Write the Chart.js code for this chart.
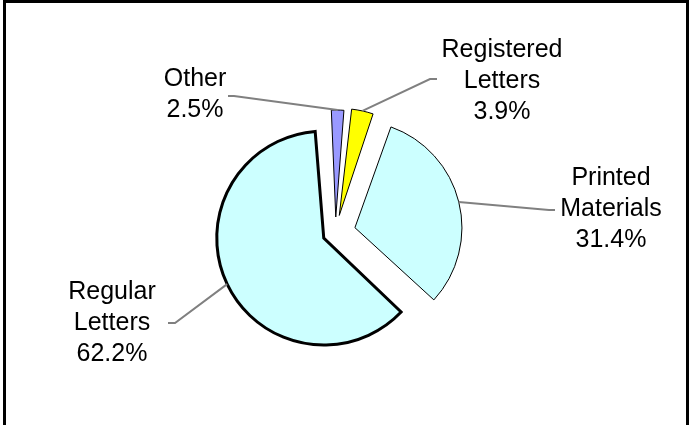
<!DOCTYPE html>
<html>
<head>
<meta charset="utf-8">
<script src="https://cdn.jsdelivr.net/npm/chart.js@4/dist/chart.umd.min.js"></script>
<style>
  html, body { margin: 0; padding: 0; background: #ffffff; }
  #wrap { position: relative; width: 691px; height: 425px; }
</style>
</head>
<body>
<div id="wrap"><canvas id="c" width="691" height="425"></canvas></div>
<script>
// ---- data ----
const categories = ['Other', 'Registered Letters', 'Printed Materials', 'Regular Letters'];
const shares = [2.5, 3.9, 31.4, 62.2];
const nameLines = [['Other'], ['Registered', 'Letters'], ['Printed', 'Materials'], ['Regular', 'Letters']];

// ---- styles ----
const fillColors = ['#9999FF', '#FFFF00', '#CCFFFF', '#CCFFFF'];
const borderWidths = [1, 1, 1, 3];
const explode = [62, 70, 80, 52];           // Chart.js offset units (px * 4)
const labelPos = [                          // [centre x, first baseline y]
  [195, 86], [502, 57], [611, 185], [112, 299]
];
const leaderEnds = [
  [[234, 96], [228, 96]],
  [[430, 79], [437, 79]],
  [[549, 210], [555, 210]],
  [[175, 323], [168, 323]]
];

// keep exploded slices at the same radius as the others
const Arc = Chart.ArcElement || (Chart.elements && Chart.elements.ArcElement);
const origDraw = Arc.prototype.draw;
Arc.prototype.draw = function (ctx) {
  const off = (this.options.offset || 0) / 4;
  const circ = this.circumference !== undefined ? this.circumference : (this.endAngle - this.startAngle);
  const fix = 1 - Math.sin(Math.min(Math.PI, circ || 0));
  const r = this.outerRadius;
  this.outerRadius = r - off * fix;
  origDraw.call(this, ctx);
  this.outerRadius = r;
};

const framePlugin = {
  id: 'frame',
  afterDraw(chart) {
    const ctx = chart.ctx;
    ctx.save();
    ctx.strokeStyle = '#000';
    ctx.lineWidth = 3;
    ctx.beginPath();
    ctx.moveTo(4.5, 425);
    ctx.lineTo(4.5, 1.5);
    ctx.lineTo(687.5, 1.5);
    ctx.lineTo(687.5, 425);
    ctx.stroke();
    ctx.restore();
  }
};

const labelPlugin = {
  id: 'pieLabels',
  afterDatasetsDraw(chart) {
    const ctx = chart.ctx;
    const meta = chart.getDatasetMeta(0);
    ctx.save();
    meta.data.forEach((arc, i) => {
      const p = arc.getProps(['x', 'y', 'startAngle', 'endAngle', 'outerRadius'], true);
      const mid = (p.startAngle + p.endAngle) / 2;
      const off = (arc.options.offset || 0) / 4;
      const cx = p.x + Math.cos(mid) * off;
      const cy = p.y + Math.sin(mid) * off;
      const sx = cx + Math.cos(mid) * p.outerRadius;
      const sy = cy + Math.sin(mid) * p.outerRadius;
      ctx.strokeStyle = '#808080';
      ctx.lineWidth = 2;
      ctx.beginPath();
      ctx.moveTo(sx, sy);
      leaderEnds[i].forEach(pt => ctx.lineTo(pt[0], pt[1]));
      ctx.stroke();

      const lines = nameLines[i].concat([shares[i].toFixed(1) + '%']);
      ctx.fillStyle = '#000';
      ctx.font = '25px "Liberation Sans", Arial, sans-serif';
      ctx.textAlign = 'center';
      ctx.textBaseline = 'alphabetic';
      lines.forEach((t, k) => ctx.fillText(t, labelPos[i][0], labelPos[i][1] + k * 31));
    });
    ctx.restore();
  }
};

new Chart(document.getElementById('c'), {
  type: 'pie',
  data: {
    labels: categories,
    datasets: [{
      data: shares,
      backgroundColor: fillColors,
      borderColor: '#000000',
      borderWidth: borderWidths,
      borderJoinStyle: 'miter',
      offset: explode,
      hoverOffset: 0
    }]
  },
  options: {
    responsive: false,
    animation: false,
    events: [],
    rotation: -3.5,
    radius: 107,
    layout: { padding: { left: 0, right: 20, top: 40, bottom: 0 } },
    plugins: { legend: { display: false }, tooltip: { enabled: false } }
  },
  plugins: [framePlugin, labelPlugin]
});
</script>
</body>
</html>
